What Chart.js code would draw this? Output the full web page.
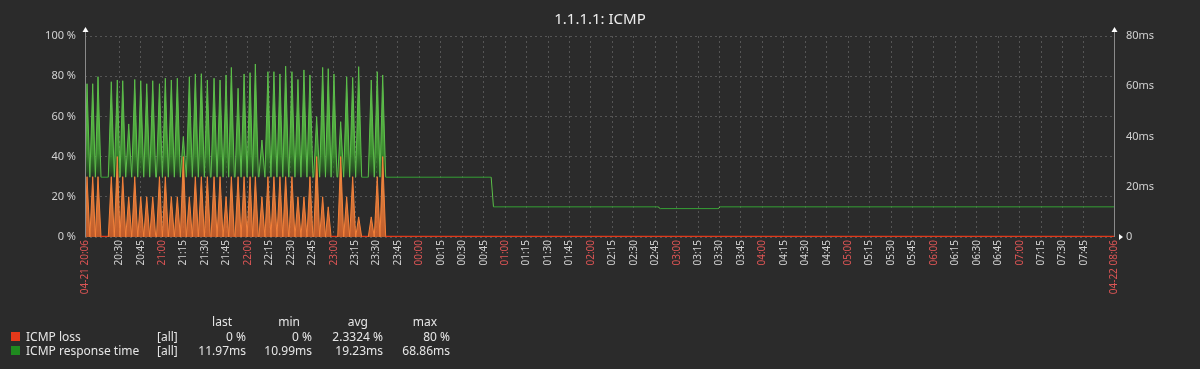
<!DOCTYPE html>
<html>
<head>
<meta charset="utf-8">
<script src="https://cdn.jsdelivr.net/npm/chart.js@4.4.1/dist/chart.umd.min.js"></script>
<style>
  html, body { margin: 0; padding: 0; background: #2b2b2b; }
  #wrap { position: relative; width: 1200px; height: 369px; background: #2b2b2b; overflow: hidden; font-family: "Noto Sans", sans-serif; color: #e6e6e6; }
  #c { position: absolute; left: 0; top: 0; }
  .t { position: absolute; font-size: 12px; line-height: 12px; white-space: nowrap; }
  .r { text-align: right; }
  #title { position: absolute; left: 0; width: 1200px; top: 11px; text-align: center; font-size: 15px; line-height: 15px; color: #ececec; }
  .sq { position: absolute; width: 9px; height: 9px; }
</style>
</head>
<body>
<div id="wrap">
  <canvas id="c" width="1200" height="369"></canvas>
  <div id="title">1.1.1.1: ICMP</div>
  <div id="legend"></div>
</div>
<script>
// ---- data ----
const spikeMinutes = [1.4, 5.4, 9.1, 18.4, 22.6, 26.4, 30.6, 34.8, 39.0, 43.2, 47.4, 52.1, 56.2, 60.4, 64.6, 68.8, 73.0, 77.2, 81.4, 85.6, 90.3, 94.5, 98.7, 102.4, 107.1, 111.3, 115.5, 119.2, 123.8, 128.0, 132.2, 136.4, 140.4, 144.8, 149.0, 153.2, 157.4, 162.1, 166.3, 170.2, 174.2, 178.9, 183.1, 187.3, 191.5, 200.3, 204.5, 208.3];
const rtSpikeMs = [61, 61, 63.8, 61.8, 62.5, 62.2, 45, 62.7, 62.2, 61, 62.2, 61, 63.2, 62.5, 63.2, 40, 63.8, 64.9, 65, 62.5, 63.2, 62.5, 64.5, 67.5, 59.2, 64.9, 65.4, 68.86, 38.6, 65.8, 65.8, 64.9, 68, 65.8, 62.7, 66.5, 64.5, 47.9, 67.5, 67, 64.9, 45.9, 63.8, 63.5, 67.8, 62.5, 65.8, 64.5];
const lossSpikePct = [30, 30, 30, 30, 40, 30, 20, 30, 20, 20, 20, 30, 30, 20, 20, 40, 20, 30, 30, 30, 30, 30, 20, 30, 30, 30, 30, 30, 20, 30, 30, 30, 30, 30, 20, 20, 30, 40, 20, 15, 0, 40, 20, 30, 10, 10, 30, 40];
const rtSpikeBaseMs = 23.8;
const spikeHalfWidthMin = 2.1;
const rtSteadyMinutes = [210.4, 284.2, 285.8, 401, 402.5, 443, 444.5, 720];
const rtSteadyMs = [23.8, 23.8, 12.0, 12.0, 11.3, 11.3, 12.0, 12.0];
const lossSteadyMinutes = [210.4, 720];
const lossSteadyPct = [0, 0];

const tickLabels = ['04-21 20:06','20:30','20:45','21:00','21:15','21:30','21:45','22:00','22:15','22:30','22:45','23:00','23:15','23:30','23:45','00:00','00:15','00:30','00:45','01:00','01:15','01:30','01:45','02:00','02:15','02:30','02:45','03:00','03:15','03:30','03:45','04:00','04:15','04:30','04:45','05:00','05:15','05:30','05:45','06:00','06:15','06:30','06:45','07:00','07:15','07:30','07:45','04-22 08:06'];

const legendHeader = ['last', 'min', 'avg', 'max'];
const legendNames = ['ICMP loss', 'ICMP response time'];
const legendScope = ['[all]', '[all]'];
const legendLoss = ['0 %', '0 %', '2.3324 %', '80 %'];
const legendRt = ['11.97ms', '10.99ms', '19.23ms', '68.86ms'];

// ---- build series ----
function labelToMinute(lbl) {
  const hm = lbl.slice(-5).split(':').map(Number);
  const m = hm[0] * 60 + hm[1] - (20 * 60 + 6);
  return lbl.startsWith('04-22') ? 720 : ((m + 1440) % 1440);
}
const tickMinutes = tickLabels.map(labelToMinute);

// spike feet; neighbouring spikes that would overlap share a foot at their midpoint
const feet = spikeMinutes.map((t, i) => {
  const prev = spikeMinutes[i - 1], next = spikeMinutes[i + 1];
  let a = t - spikeHalfWidthMin, b = t + spikeHalfWidthMin;
  if (prev !== undefined && a < prev + spikeHalfWidthMin) a = (prev + t) / 2;
  if (next !== undefined && b > next - spikeHalfWidthMin) b = (t + next) / 2;
  return [Math.max(0, a), b];
});

const rtPoints = [{x: 0, y: rtSpikeBaseMs}];
const lossPoints = [{x: 0, y: 0}];
spikeMinutes.forEach((t, i) => {
  const [a, b] = feet[i];
  rtPoints.push({x: a, y: rtSpikeBaseMs}, {x: t, y: rtSpikeMs[i]}, {x: b, y: rtSpikeBaseMs});
  if (lossSpikePct[i] > 0) {
    lossPoints.push({x: a, y: 0}, {x: t, y: lossSpikePct[i]}, {x: b, y: 0});
  }
});
rtSteadyMinutes.forEach((t, i) => rtPoints.push({x: t, y: rtSteadyMs[i]}));
lossSteadyMinutes.forEach((t, i) => lossPoints.push({x: t, y: lossSteadyPct[i]}));

// ---- legend (HTML text) ----
(function () {
  const L = document.getElementById('legend');
  const add = (txt, css, cls) => { const d = document.createElement('div'); d.className = 't ' + (cls || ''); d.textContent = txt; Object.assign(d.style, css); L.appendChild(d); };
  const headRight = [232, 300, 368, 437];
  const colRight = [246, 312, 383, 450];
  legendHeader.forEach((h, i) => add(h, {right: (1200 - headRight[i]) + 'px', top: '316px'}, 'r'));
  const rowsTop = [331, 345];
  const sqColors = ['#e5391a', '#1f8a1f'];
  [legendLoss, legendRt].forEach((vals, r) => {
    const s = document.createElement('div'); s.className = 'sq';
    Object.assign(s.style, {left: '11px', top: (rowsTop[r] + 1) + 'px', background: sqColors[r]}); L.appendChild(s);
    add(legendNames[r], {left: '26px', top: rowsTop[r] + 'px'});
    add(legendScope[r], {left: '157px', top: rowsTop[r] + 'px'});
    vals.forEach((v, i) => add(v, {right: (1200 - colRight[i]) + 'px', top: rowsTop[r] + 'px'}, 'r'));
  });
})();

// ---- chart ----
const RED = '#dd5555', GREY = '#d2d2d2';
const isRed = (lbl) => lbl.length > 5 || lbl.endsWith(':00');

const decor = {
  id: 'decor',
  afterDraw(chart) {
    const {ctx, chartArea: a} = chart;
    ctx.save();
    ctx.strokeStyle = '#8a8a8a';
    ctx.lineWidth = 1;
    [a.left, a.right].forEach(x => {
      ctx.beginPath(); ctx.moveTo(x + 0.5, a.top - 5); ctx.lineTo(x + 0.5, a.bottom); ctx.stroke();
      ctx.fillStyle = '#ffffff';
      ctx.beginPath(); ctx.moveTo(x + 0.5, a.top - 9); ctx.lineTo(x - 2.5, a.top - 4); ctx.lineTo(x + 3.5, a.top - 4); ctx.closePath(); ctx.fill();
    });
    ctx.fillStyle = '#ffffff';
    ctx.beginPath(); ctx.moveTo(a.right + 5, a.bottom - 3); ctx.lineTo(a.right + 9, a.bottom); ctx.lineTo(a.right + 5, a.bottom + 3); ctx.closePath(); ctx.fill();
    ctx.restore();
  }
};

const flat = (c) => c.p0.parsed.y === c.p1.parsed.y;
const fontTick = {family: '"Noto Sans", sans-serif', size: 11};
const chart = new Chart(document.getElementById('c'), {
  type: 'line',
  data: {
    datasets: [
      {label: 'ICMP loss', data: lossPoints, yAxisID: 'y', borderColor: '#e8441b', borderWidth: 1.5, backgroundColor: 'rgba(230,120,50,0.9)', fill: 'origin', pointRadius: 0, tension: 0,
       segment: {borderColor: (c) => flat(c) ? '#e0391a' : '#f5803a', borderWidth: (c) => flat(c) ? 2.5 : 1}},
      {label: 'ICMP response time', data: rtPoints, yAxisID: 'y2', borderColor: '#35a035', borderWidth: 1, backgroundColor: 'rgba(80,170,60,0.8)', fill: 'origin', pointRadius: 0, tension: 0,
       segment: {borderColor: (c) => flat(c) ? '#35a035' : '#5cbf4a'}}
    ]
  },
  options: {
    responsive: false,
    animation: false,
    events: [],
    layout: {padding: {top: 36, left: 0, right: 0, bottom: 0}},
    plugins: {legend: {display: false}, tooltip: {enabled: false}, title: {display: false}},
    scales: {
      x: {
        type: 'linear', min: 0, max: 720,
        afterBuildTicks: (s) => { s.ticks = tickMinutes.map(v => ({value: v})); },
        afterFit: (s) => { s.height = 132; },
        ticks: {
          autoSkip: false, maxRotation: 90, minRotation: 90, padding: 3,
          font: {family: '"Noto Sans", sans-serif', size: 10},
          color: (c) => isRed(tickLabels[c.index] || '') ? RED : GREY,
          callback: (v, i) => tickLabels[i]
        },
        grid: {color: '#555555', drawTicks: false, lineWidth: 1},
        border: {display: false, dash: [2, 3]}
      },
      y: {
        position: 'left', min: 0, max: 100,
        afterFit: (s) => { s.width = 85; },
        ticks: {stepSize: 20, padding: 9, color: GREY, font: fontTick, callback: (v) => v + ' %'},
        grid: {color: '#555555', drawTicks: false},
        border: {display: false, dash: [2, 3]}
      },
      y2: {
        position: 'right', min: 0, max: 80,
        afterFit: (s) => { s.width = 86; },
        ticks: {stepSize: 20, padding: 12, color: GREY, font: fontTick, callback: (v) => v === 0 ? '0' : v + 'ms'},
        grid: {display: false, drawOnChartArea: false, drawTicks: false},
        border: {display: false}
      }
    }
  },
  plugins: [decor]
});

// gradients need the laid-out scales
(function () {
  const c = chart.ctx, y = chart.scales.y, y2 = chart.scales.y2;
  const g = c.createLinearGradient(0, y2.getPixelForValue(70), 0, y2.getPixelForValue(rtSpikeBaseMs));
  g.addColorStop(0, 'rgba(105,200,88,1)');
  g.addColorStop(0.55, 'rgba(82,172,64,1)');
  g.addColorStop(0.8, 'rgba(58,138,46,0.95)');
  g.addColorStop(0.95, 'rgba(38,95,32,0.6)');
  g.addColorStop(1, 'rgba(30,80,30,0)');
  const o = c.createLinearGradient(0, y.getPixelForValue(40), 0, y.getPixelForValue(0));
  o.addColorStop(0, 'rgba(250,160,80,1)');
  o.addColorStop(0.5, 'rgba(225,128,62,0.95)');
  o.addColorStop(1, 'rgba(205,95,42,0.9)');
  chart.data.datasets[1].backgroundColor = g;
  chart.data.datasets[0].backgroundColor = o;
  chart.update('none');
})();
</script>
</body>
</html>
